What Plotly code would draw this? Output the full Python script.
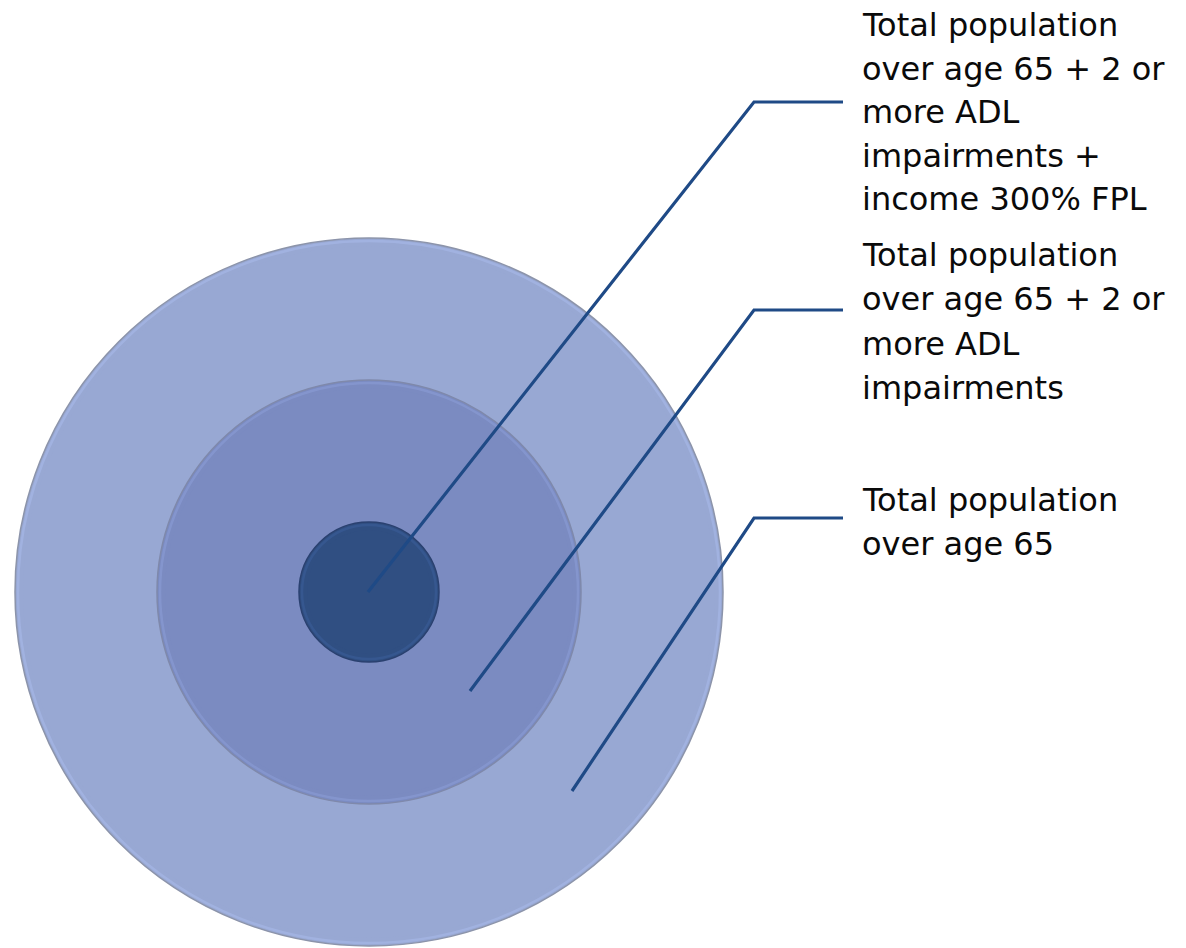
import plotly.graph_objects as go

# Data: nested populations (circle radii, in pixels)
labels = [
    ["Total population", "over age 65"],
    ["Total population", "over age 65 + 2 or", "more ADL", "impairments"],
    ["Total population", "over age 65 + 2 or", "more ADL", "impairments +", "income 300% FPL"],
]
radii = [354, 212, 70]

# Styling / layout
fills = ["#98a8d3", "#7b8bc1", "#304f82"]
rims = ["#8c94aa", "#7f89ab", "#2a4170"]
highlights = ["#a8b9e9", "#8b9dd6", "#3a5d99"]
line_color = "#1f4a86"
W, H = 1186, 948
OFF = 8  # page body margin
cx, cy = 369, 592
label_y = [518, 310, 102]
text_first = [500, 255, 25]
line_step = [44.3, 44.3, 43.6]
line_end = [(572, 791), (470, 691), (368, 592)]
elbow_x, line_x2, text_x = 754, 843, 860

fig = go.Figure()

shapes = []
for r, f, rc, hc in zip(radii, fills, rims, highlights):
    shapes.append(dict(type="circle", xref="x", yref="y",
                       x0=cx - r, x1=cx + r, y0=cy - r, y1=cy + r,
                       fillcolor=f, line=dict(color=rc, width=1.5), layer="below"))
    rr = r - 3
    shapes.append(dict(type="circle", xref="x", yref="y",
                       x0=cx - rr, x1=cx + rr, y0=cy - rr, y1=cy + rr,
                       fillcolor="rgba(0,0,0,0)", line=dict(color=hc, width=2.5),
                       opacity=0.6, layer="below"))
    rr = r - 8
    shapes.append(dict(type="circle", xref="x", yref="y",
                       x0=cx - rr, x1=cx + rr, y0=cy - rr, y1=cy + rr,
                       fillcolor=f, line=dict(color=f, width=0), layer="below"))
fig.update_layout(shapes=shapes)

for lines, ly, ty, step, (ex, ey) in zip(labels, label_y, text_first, line_step, line_end):
    fig.add_trace(go.Scatter(x=[ex, elbow_x, line_x2], y=[ey, ly, ly], mode="lines",
                             line=dict(color=line_color, width=3.2), hoverinfo="skip",
                             showlegend=False))
    for i, t in enumerate(lines):
        fig.add_annotation(x=text_x, y=ty + i * step, xref="x", yref="y", text=t,
                           showarrow=False, xanchor="left", yanchor="middle", align="left",
                           font=dict(family="DejaVu Sans", size=32, color="#0a0a0a"))

fig.update_xaxes(range=[OFF, W + OFF], visible=False, fixedrange=True)
fig.update_yaxes(range=[H + OFF, OFF], visible=False, fixedrange=True)
fig.update_layout(width=W, height=H, margin=dict(l=0, r=0, t=0, b=0),
                  plot_bgcolor="white", paper_bgcolor="white")
fig.write_html("out.html")
